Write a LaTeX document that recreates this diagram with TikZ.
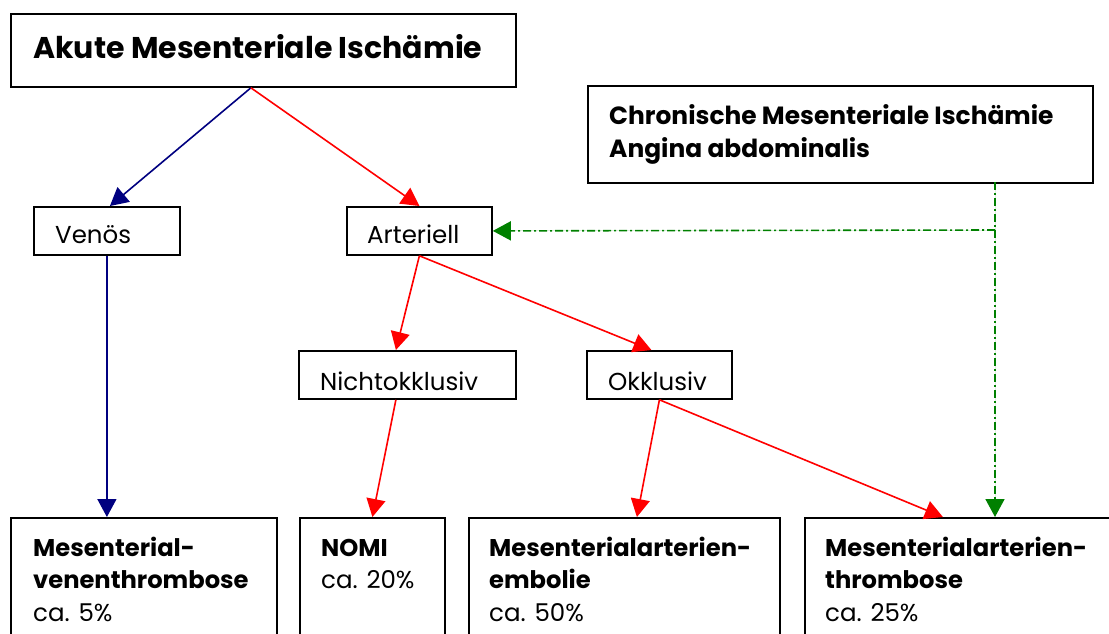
\documentclass[tikz,border=0pt]{standalone}
\usepackage{fontspec}
\setmainfont{Poppins}
\usetikzlibrary{arrows.meta}
\definecolor{navyc}{RGB}{0,0,128}
\definecolor{redc}{RGB}{255,0,0}
\definecolor{greenc}{RGB}{0,128,0}
\begin{document}
\begin{tikzpicture}[x=1pt,y=-1pt,
  box/.style={draw=black,line width=1.8pt,inner sep=0pt,anchor=north west},
  lbl/.style={anchor=base west,inner sep=0pt,font=\fontsize{24.5}{28}\selectfont},
  blbl/.style={anchor=base west,inner sep=0pt,font=\fontsize{24.2}{28}\selectfont\bfseries},
  clbl/.style={anchor=base west,inner sep=0pt,font=\fontsize{24.9}{28}\selectfont\bfseries},
  tip/.style={-{Triangle[length=18pt,width=19pt]}},
  navyline/.style={tip,draw=navyc,fill=navyc,line width=1.6pt},
  redline/.style={tip,draw=redc,fill=redc,line width=1.6pt},
  greenline/.style={draw=greenc,fill=greenc,line width=1.6pt,dash pattern=on 8pt off 3pt on 2pt off 3pt}]
\useasboundingbox (0,0) rectangle (1109,633);
\begin{scope}
\clip (0,0) rectangle (1109,633);
% boxes
\node[box,minimum width=505pt,minimum height=73pt] (akute) at (10,13) {};
\node[box,minimum width=505pt,minimum height=97pt] (chron) at (587,85) {};
\node[box,minimum width=146pt,minimum height=48pt] (venos) at (33,206) {};
\node[box,minimum width=145pt,minimum height=48pt] (arter) at (346,206) {};
\node[box,minimum width=217pt,minimum height=48pt] (nicht) at (298,350) {};
\node[box,minimum width=145pt,minimum height=48pt] (okkl) at (586,350) {};
\node[box,minimum width=266pt,minimum height=140pt] (vene) at (10,517) {};
\node[box,minimum width=145pt,minimum height=140pt] (nomi) at (299,517) {};
\node[box,minimum width=311pt,minimum height=140pt] (embo) at (468,517) {};
\node[box,minimum width=320pt,minimum height=140pt] (thro) at (804,517) {};
\end{scope}
% texts
\node[blbl,font=\fontsize{30}{34}\selectfont\bfseries] (takute) at (33,58) {Akute Mesenteriale Ischämie};
\node[clbl] (tchron1) at (609,124) {Chronische Mesenteriale Ischämie};
\node[clbl] (tchron2) at (609,157) {Angina abdominalis};
\node[lbl] (tvenos) at (55,243) {Venös};
\node[lbl] (tarter) at (367,243) {Arteriell};
\node[lbl] (tnicht) at (320,390) {Nichtokklusiv};
\node[lbl] (tokkl) at (608,390) {Okklusiv};
\node[blbl] (tvene1) at (33,556) {Mesenterial-};
\node[blbl] (tvene2) at (33,588) {venenthrombose};
\node[lbl] (tvene3) at (33,621) {ca. 5\%};
\node[blbl] (tnomi1) at (321,556) {NOMI};
\node[lbl] (tnomi2) at (321,588) {ca. 20\%};
\node[blbl] (tembo1) at (489,556) {Mesenterialarterien-};
\node[blbl] (tembo2) at (489,588) {embolie};
\node[lbl] (tembo3) at (489,621) {ca. 50\%};
\node[blbl] (tthro1) at (825,556) {Mesenterialarterien-};
\node[blbl] (tthro2) at (825,588) {thrombose};
\node[lbl] (tthro3) at (825,621) {ca. 25\%};
% connectors
\coordinate (ak) at ([xshift=-12.5pt]akute.south);
\coordinate (gt) at (995,517);
\coordinate (gj) at (995,230);
\coordinate (gs) at (995,182);
\draw[navyline] (ak) -- ([xshift=3pt]venos.north);
\draw[redline] (ak) -- (arter.north);
\draw[navyline] ([xshift=0pt]venos.south) -- (venos.south |- vene.north);
\draw[redline] (arter.south) -- ([xshift=-11.5pt]nicht.north);
\draw[redline] (arter.south) -- ([xshift=-8pt]okkl.north);
\draw[redline] ([xshift=-11.5pt]nicht.south) -- (nomi.north);
\draw[redline] (okkl.south) -- ([xshift=12.5pt]embo.north);
\draw[redline] (okkl.south) -- ([xshift=-22pt]thro.north);
\draw[greenline] (gs) -- (gj);
\draw[greenline,-{Triangle[length=18pt,width=19pt]}] (gj) -- (gt);
\draw[greenline,-{Triangle[length=18pt,width=19pt]}] (gj) -- (arter.east);
\end{tikzpicture}
\end{document}
